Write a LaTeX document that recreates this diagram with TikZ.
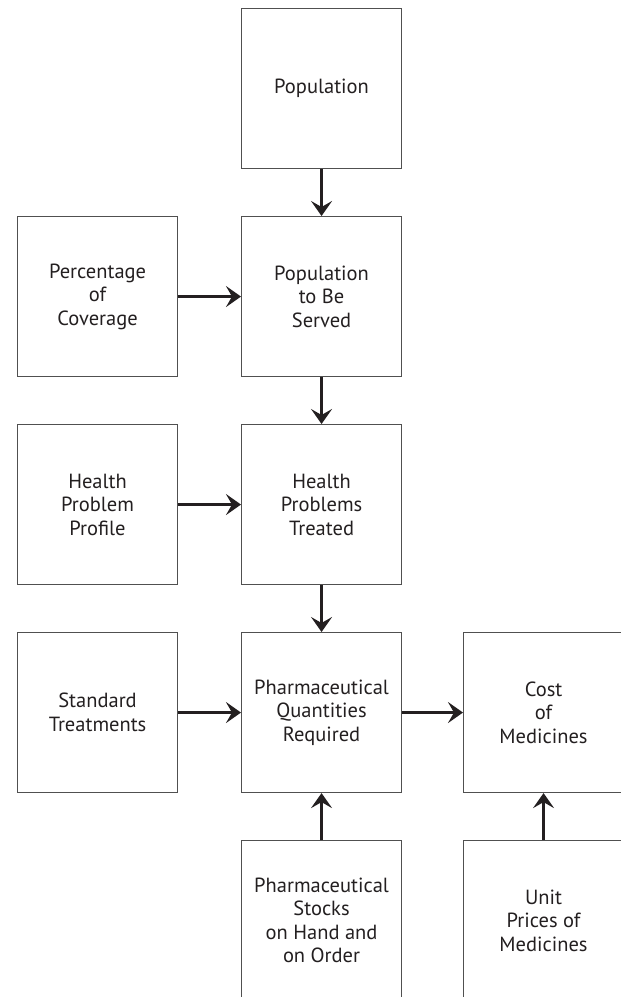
\documentclass[tikz,border=0pt]{standalone}
\usepackage{fontspec}
\setmainfont{PT Sans}
\usetikzlibrary{arrows.meta}
\definecolor{boxgray}{HTML}{505050}
\definecolor{inkblack}{HTML}{231F20}
\begin{document}
\begin{tikzpicture}[x=1pt,y=-1pt,
  box/.style={draw=boxgray, line width=1.1pt, minimum width=160pt, minimum height=160pt,
    inner sep=0pt, align=center, anchor=north west, text=inkblack,
    font=\fontsize{20.5}{23.5}\selectfont},
  flow/.style={-{Stealth[length=15pt,width=21pt,inset=6pt]}, line width=2.4pt, draw=inkblack}]
\useasboundingbox (0,0) rectangle (621,997);
\clip (0,0) rectangle (621,997);
\node[box] (pop) at (241,8) {Population};
\node[box] (pct) at (17,216) {Percentage\\of\\Coverage};
\node[box] (serv) at (241,216) {Population\\to Be\\Served};
\node[box] (prof) at (17,424) {Health\\Problem\\Profile};
\node[box] (treat) at (241,424) {Health\\Problems\\Treated};
\node[box] (std) at (17,632) {Standard\\Treatments};
\node[box] (qty) at (241,632) {Pharmaceutical\\Quantities\\Required};
\node[box] (cost) at (463,632) {Cost\\of\\Medicines};
\node[box] (stock) at (241,840) {Pharmaceutical\\Stocks\\on Hand and\\on Order};
\node[box] (unit) at (463,840) {Unit\\Prices of\\Medicines};
\draw[flow] (pop) -- (serv);
\draw[flow] (pct) -- (serv);
\draw[flow] (serv) -- (treat);
\draw[flow] (prof) -- (treat);
\draw[flow] (treat) -- (qty);
\draw[flow] (std) -- (qty);
\draw[flow] (qty) -- (cost);
\draw[flow] (stock) -- (qty);
\draw[flow] (unit) -- (cost);
\end{tikzpicture}
\end{document}
